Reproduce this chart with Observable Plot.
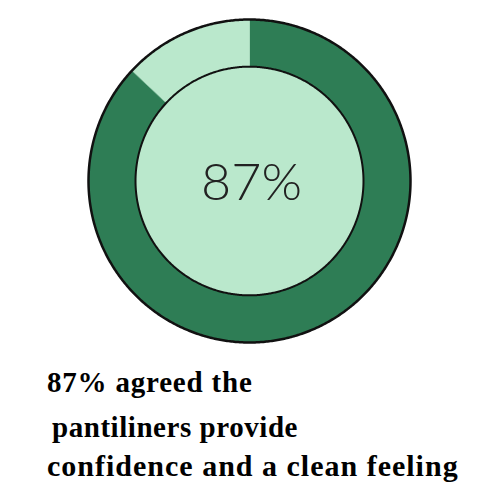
<!DOCTYPE html>
<html>
<head>
<meta charset="utf-8">
<script src="https://cdn.jsdelivr.net/npm/d3@7"></script>
<script src="https://cdn.jsdelivr.net/npm/@observablehq/plot@0.6"></script>
<style>
  html, body { margin: 0; padding: 0; background: #fff; }
  body { position: relative; width: 500px; height: 500px; overflow: hidden; }
  #chart svg { display: block; }
  .cap { position: absolute; font-family: "Liberation Serif", "Times New Roman", serif; font-weight: bold; color: #000; white-space: nowrap; }
</style>
</head>
<body>
<div id="chart"></div>
<div id="caption"></div>
<script>
// Data
const labels = ["Agreed", "Other"];
const values = [87, 13];
const colors = ["#2e7d55", "#bae8cc"];
const centerLabel = "87%";
const captionLines = ["87% agreed the", "pantiliners provide", "confidence and a clean feeling"];
const outerR = 1;
const innerR = 0.708;

const total = d3.sum(values);
const slices = [];
let acc = 0;
labels.forEach((label, i) => {
  const a0 = acc / total * 2 * Math.PI;
  acc += values[i];
  const a1 = acc / total * 2 * Math.PI;
  const n = Math.max(8, Math.ceil((a1 - a0) / 0.01));
  for (let k = 0; k <= n; k++) {
    const a = a0 + (a1 - a0) * k / n;
    slices.push({label, color: colors[i], x: outerR * Math.sin(a), y: outerR * Math.cos(a)});
  }
  for (let k = n; k >= 0; k--) {
    const a = a0 + (a1 - a0) * k / n;
    slices.push({label, color: colors[i], x: innerR * Math.sin(a), y: innerR * Math.cos(a)});
  }
});
function circle(r, name) {
  const pts = [];
  for (let k = 0; k <= 720; k++) {
    const a = k / 720 * 2 * Math.PI;
    pts.push({name, x: r * Math.sin(a), y: r * Math.cos(a)});
  }
  return pts;
}
const outerCircle = circle(outerR, "outer");
const innerCircle = circle(innerR, "inner");

const chart = Plot.plot({
  width: 500,
  height: 350,
  margin: 0,
  x: {domain: [-1, 1], range: [88, 410], axis: null},
  y: {domain: [-1, 1], range: [342, 19], axis: null},
  marks: [
    Plot.line(slices, {x: "x", y: "y", z: "label", fill: "color", stroke: "color", strokeWidth: 0.5, curve: "linear-closed"}),
    Plot.line(innerCircle, {x: "x", y: "y", fill: colors[1], stroke: "#111", strokeWidth: 2, curve: "linear-closed"}),
    Plot.line(outerCircle, {x: "x", y: "y", fill: "none", stroke: "#111", strokeWidth: 2.5, curve: "linear-closed"}),
    Plot.text([centerLabel], {x: () => 0, y: () => 0, text: d => d, fontSize: 52, fontWeight: 300, fontFamily: "Lato, 'Open Sans', sans-serif", fill: "#222", dy: 2, dx: 2})
  ]
});
document.getElementById("chart").appendChild(chart);

const cap = document.getElementById("caption");
const capLayout = [
  {left: 47, baseline: 392, size: 29, ls: 0.8},
  {left: 52, baseline: 437, size: 29, ls: 0.55},
  {left: 47, baseline: 476, size: 30, ls: 1.0}
];
captionLines.forEach((t, i) => {
  const L = capLayout[i];
  const d = document.createElement("div");
  d.className = "cap";
  d.textContent = t;
  d.style.fontSize = L.size + "px";
  d.style.lineHeight = L.size + "px";
  d.style.letterSpacing = L.ls + "px";
  d.style.left = L.left + "px";
  d.style.top = (L.baseline - 0.8375 * L.size) + "px";
  cap.appendChild(d);
});
</script>
</body>
</html>
